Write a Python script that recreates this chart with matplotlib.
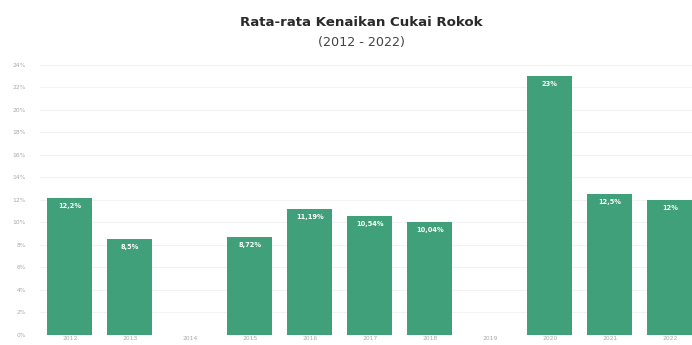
import matplotlib.pyplot as plt
import numpy as np

years = ['2012', '2013', '2014', '2015', '2016', '2017', '2018', '2019', '2020', '2021', '2022']
kenaikan = [12.2, 8.5, 0, 8.72, 11.19, 10.54, 10.04, 0, 23, 12.5, 12]
labels = ['12,2%', '8,5%', '', '8,72%', '11,19%', '10,54%', '10,04%', '', '23%', '12,5%', '12%']

fig = plt.figure(figsize=(6.92, 3.45), dpi=100)
ax = fig.add_axes([40 / 692, 0.03, 652 / 692, 0.798])

x = np.arange(len(years))
bars = ax.bar(x, kenaikan, width=0.75, color='#40a07a', zorder=2)
for b, lab in zip(bars, labels):
    if lab:
        ax.text(b.get_x() + b.get_width() / 2, b.get_height() - 0.45, lab,
                ha='center', va='top', color='white', fontsize=4.8,
                fontweight='bold', zorder=3)

ax.set_xlim(-0.5, 10.37)
ax.set_ylim(0, 24.5)
ax.set_yticks(np.arange(0, 25, 2))
ax.set_yticklabels([f'{v}%' for v in range(0, 25, 2)])
ax.set_xticks(x)
ax.set_xticklabels(years)
ax.tick_params(axis='both', length=0, labelsize=4.3, labelcolor='#a8a8a8')
ax.tick_params(axis='y', pad=10)
ax.tick_params(axis='x', pad=1.2)
ax.grid(axis='y', color='#f3f3f3', linewidth=0.8, zorder=0)
for s in ax.spines.values():
    s.set_visible(False)

fig.text(0.522, 0.936, 'Rata-rata Kenaikan Cukai Rokok', ha='center', va='center',
         fontsize=9.6, fontweight='bold', color='#2a2a2a')
fig.text(0.522, 0.877, '(2012 - 2022)', ha='center', va='center',
         fontsize=9.2, color='#444444')

fig.savefig('out.png', dpi=100)
